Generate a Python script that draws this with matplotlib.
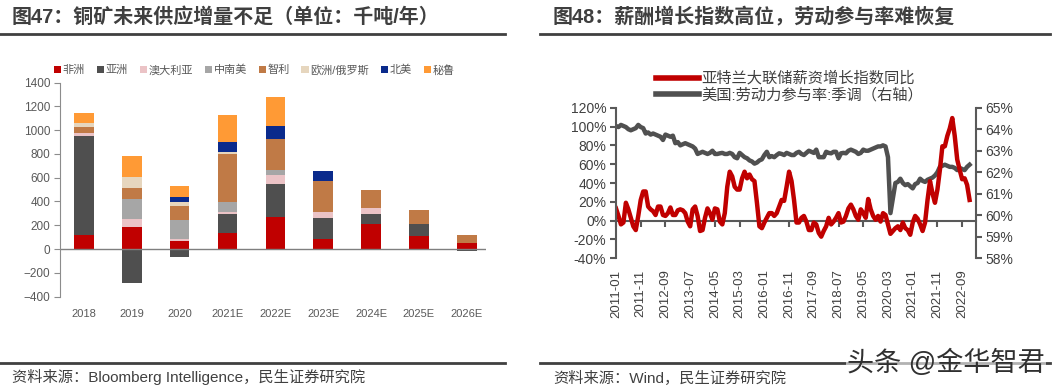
import numpy as np
import matplotlib
matplotlib.use("Agg")
import matplotlib.pyplot as plt
from matplotlib.patches import Patch
from matplotlib.lines import Line2D

plt.rcParams['font.family'] = ['Liberation Sans', 'Noto Sans CJK SC', 'DejaVu Sans']

# ---- left chart data (千吨/年) ----
years = ["2018", "2019", "2020", "2021E", "2022E", "2023E", "2024E", "2025E", "2026E"]
regions = ["非洲", "亚洲", "澳大利亚", "中南美", "智利", "欧洲/俄罗斯", "北美", "秘鲁"]
africa = [117, 182, 64, 131, 266, 81, 210, 112, 48]
asia = [834, -285, -64, 163, 279, 182, 81, 98, -14]
australia = [28, 70, 17, 19, 76, 45, 50, 0, 0]
latam = [0, 170, 162, 84, 42, 0, 0, 0, 0]
chile = [47, 95, 118, 406, 260, 263, 154, 117, 69]
europe = [37, 90, 31, 14, 0, 0, 0, 0, 0]
namerica = [0, 0, 42, 84, 109, 86, 0, 0, 0]
peru = [84, 176, 92, 229, 250, 0, 0, 0, 0]
region_colors = ["#C00000", "#4F4F4F", "#EBC3C6", "#A6A6A6", "#C07A46", "#E6D6BE", "#0A2A8C", "#FF9A35"]

# ---- right chart data (monthly, 2011-01 .. 2022-12) ----
months = [f"{y}-{m:02d}" for y in range(2011, 2023) for m in range(1, 13)]
wage_yoy = [13, 5, -4, -2, 19, 12, 3, -6, -10, 5, 22, 31,
            31, 15, 12, 10, 6, 15, 15, 6, 5, 8, 14, 6,
            6, 11, 12, 11, 8, -1, -6, 12, 15, 5, -11, -10,
            3, 13, 8, 1, 13, 12, -1, -4, 8, 36, 52, 47,
            36, 33, 33, 45, 52, 45, 49, 44, 42, 19, -6, -8,
            -2, 3, 8, 8, 5, 8, 15, 22, 21, 36, 52, 42,
            22, -2, -2, 3, 5, -1, -10, -10, -2, -4, -13, -17,
            -11, -6, 3, -4, -1, 3, 8, -2, -1, 5, 13, 17,
            12, 5, 1, 12, 8, 3, 23, 12, 5, 1, 5, -1,
            8, 6, -4, -14, -11, -8, -6, -10, -2, -8, -10, -15,
            -2, 5, 2, -4, -11, -2, 22, 42, 29, 19, 33, 54,
            79, 79, 90, 98, 109, 90, 65, 54, 44, 45, 38, 22]
lfpr = [64.15, 64.1, 64.2, 64.15, 64.1, 64.0, 63.95, 64.0, 64.05, 64.2, 64.1, 64.05,
        63.8, 63.85, 63.75, 63.8, 63.75, 63.7, 63.65, 63.5, 63.75, 63.7, 63.65, 63.7,
        63.35, 63.4, 63.25, 63.3, 63.35, 63.3, 63.25, 63.2, 63.1, 62.85, 62.9, 62.95,
        62.9, 62.85, 62.9, 63.0, 62.85, 62.85, 62.88, 62.9, 62.85, 62.85, 62.9, 62.85,
        62.7, 62.65, 62.9, 62.8, 62.7, 62.65, 62.55, 62.5, 62.4, 62.45, 62.55, 62.6,
        62.8, 62.95, 62.7, 62.75, 62.7, 62.8, 62.88, 62.85, 62.8, 62.9, 62.85, 62.8,
        62.8, 62.9, 62.95, 62.85, 62.8, 62.9, 63.0, 62.95, 62.9, 63.05, 62.7, 62.7,
        62.7, 62.95, 62.9, 62.88, 62.95, 62.95, 62.65, 62.88, 62.9, 62.88, 63.0, 63.05,
        63.0, 62.95, 62.85, 62.9, 63.05, 63.0, 63.0, 63.05, 63.1, 63.15, 63.2, 63.2,
        63.25, 63.2, 62.7, 60.1, 60.8, 61.5, 61.55, 61.7, 61.5, 61.4, 61.45, 61.35,
        61.25, 61.45, 61.5, 61.7, 61.6, 61.55, 61.65, 61.7, 61.75, 61.85, 62.0, 62.25,
        62.3, 62.35, 62.3, 62.25, 62.25, 62.2, 62.1, 62.2, 62.15, 62.1, 62.25, 62.35]

W, H = 1061, 390
fig = plt.figure(figsize=(W / 100, H / 100), dpi=100)


def fx(px):
    return px / W


def fy(py):
    return 1 - py / H


title_color = "#3F3F3F"
fig.text(fx(12), fy(17), "图47：铜矿未来供应增量不足（单位：千吨/年）", fontsize=14.4,
         weight="bold", color=title_color, va="center", ha="left")
fig.text(fx(553), fy(17), "图48：薪酬增长指数高位，劳动参与率难恢复", fontsize=14.4,
         weight="bold", color=title_color, va="center", ha="left")
for x0, x1 in [(0, 505), (540, 1050)]:
    fig.add_artist(Line2D([fx(x0), fx(x1)], [fy(34), fy(34)], color="#404040", lw=2))
    fig.add_artist(Line2D([fx(x0), fx(x1)], [fy(363), fy(363)], color="#404040", lw=2))
fig.text(fx(12), fy(377), "资料来源：Bloomberg Intelligence，民生证券研究院", fontsize=11,
         color="#404040", va="center", ha="left")
fig.text(fx(553), fy(378), "资料来源：Wind，民生证券研究院", fontsize=11,
         color="#404040", va="center", ha="left")
fig.text(fx(1045), fy(363), "头条 @金华智君", fontsize=19.5, color="#303030",
         va="center", ha="right",
         bbox=dict(facecolor="white", edgecolor="none", alpha=0.6, pad=1))

# ---- left: stacked bars ----
ax1 = fig.add_axes([fx(60), fy(296.6), fx(486 - 60), (296.6 - 82.5) / H])
series = [africa, asia, australia, latam, chile, europe, namerica, peru]
x = np.arange(len(years))
pos_base = np.zeros(len(years))
neg_base = np.zeros(len(years))
for vals, col in zip(series, region_colors):
    v = np.array(vals, dtype=float)
    bottom = np.where(v >= 0, pos_base, neg_base)
    ax1.bar(x, v, 0.41, bottom=bottom, color=col, linewidth=0)
    pos_base = pos_base + np.where(v > 0, v, 0)
    neg_base = neg_base + np.where(v < 0, v, 0)
ax1.axhline(0, color="#7F7F7F", lw=1)
ax1.set_xlim(-0.5, 8.4)
ax1.set_ylim(-400, 1400)
ax1.set_yticks(range(-400, 1401, 200))
ax1.set_xticks(x)
ax1.set_xticklabels(years)
for s in ["top", "right", "bottom"]:
    ax1.spines[s].set_visible(False)
ax1.spines["left"].set_color("#8C8C8C")
ax1.tick_params(axis="y", direction="out", length=4, color="#8C8C8C", labelsize=8.5,
                labelcolor="#595959", pad=3)
ax1.tick_params(axis="x", length=0, labelsize=8, labelcolor="#595959", pad=9)

handles = [Patch(facecolor=c, edgecolor="none", label=r) for r, c in zip(regions, region_colors)]
fig.legend(handles=handles, loc="center left", bbox_to_anchor=(fx(44), fy(70)), ncol=8,
           frameon=False, fontsize=8, handlelength=0.65, handleheight=0.65,
           handletextpad=0.15, columnspacing=1.05, labelcolor="#595959")

# ---- right: dual axis lines ----
ax2 = fig.add_axes([fx(616), fy(258.3), fx(976 - 616), (258.3 - 107.7) / H])
ax3 = ax2.twinx()
idx = np.arange(len(months))
l_red, = ax2.plot(idx, wage_yoy, color="#C00000", lw=3.2, solid_joinstyle="round")
l_gray, = ax3.plot(idx, lfpr, color="#505050", lw=3.2, solid_joinstyle="round")
ax2.set_zorder(ax3.get_zorder() + 1)
ax2.patch.set_visible(False)

ax2.set_xlim(0, 145.6)
ax2.set_ylim(-40, 120)
ax3.set_ylim(58, 65)
ax2.set_yticks(range(-40, 121, 20))
ax2.set_yticklabels([f"{v}%" for v in range(-40, 121, 20)])
ax3.set_yticks(range(58, 66))
ax3.set_yticklabels([f"{v}%" for v in range(58, 66)])
tick_idx = list(range(0, len(months), 10))
ax2.set_xticks(tick_idx)
ax2.set_xticklabels([months[i] for i in tick_idx], rotation=90)
ax2.tick_params(axis="x", length=0, labelsize=9.5, labelcolor="#404040", pad=8)

for a in (ax2, ax3):
    for s in ["top", "bottom"]:
        a.spines[s].set_visible(False)
ax2.spines["right"].set_visible(False)
ax3.spines["left"].set_visible(False)
ax2.spines["left"].set_color("#595959")
ax2.spines["left"].set_linewidth(1.5)
ax3.spines["right"].set_color("#595959")
ax3.spines["right"].set_linewidth(1.5)
ax2.tick_params(axis="y", direction="out", length=4, width=1.5, color="#595959",
                labelsize=10, labelcolor="#404040", pad=3)
ax3.tick_params(axis="y", direction="out", length=4, width=1.5, color="#595959",
                labelsize=10, labelcolor="#404040", pad=3)

# zero line with tick marks
zero = ax2.secondary_xaxis(40 / 160)
zero.set_xticks(tick_idx)
zero.set_xticklabels([])
zero.spines["bottom"].set_color("#595959")
zero.spines["bottom"].set_linewidth(1.5)
zero.tick_params(axis="x", direction="out", length=4, width=1.5, color="#595959")

fig.legend(handles=[l_red, l_gray],
           labels=["亚特兰大联储薪资增长指数同比", "美国:劳动力参与率:季调（右轴）"],
           loc="center left", bbox_to_anchor=(fx(642), fy(87)), frameon=False,
           fontsize=11, handlelength=2.8, handletextpad=0.2, labelspacing=0.15,
           labelcolor="#404040")
for line in fig.legends[-1].get_lines():
    line.set_linewidth(4)

fig.savefig("out.png", dpi=100)
